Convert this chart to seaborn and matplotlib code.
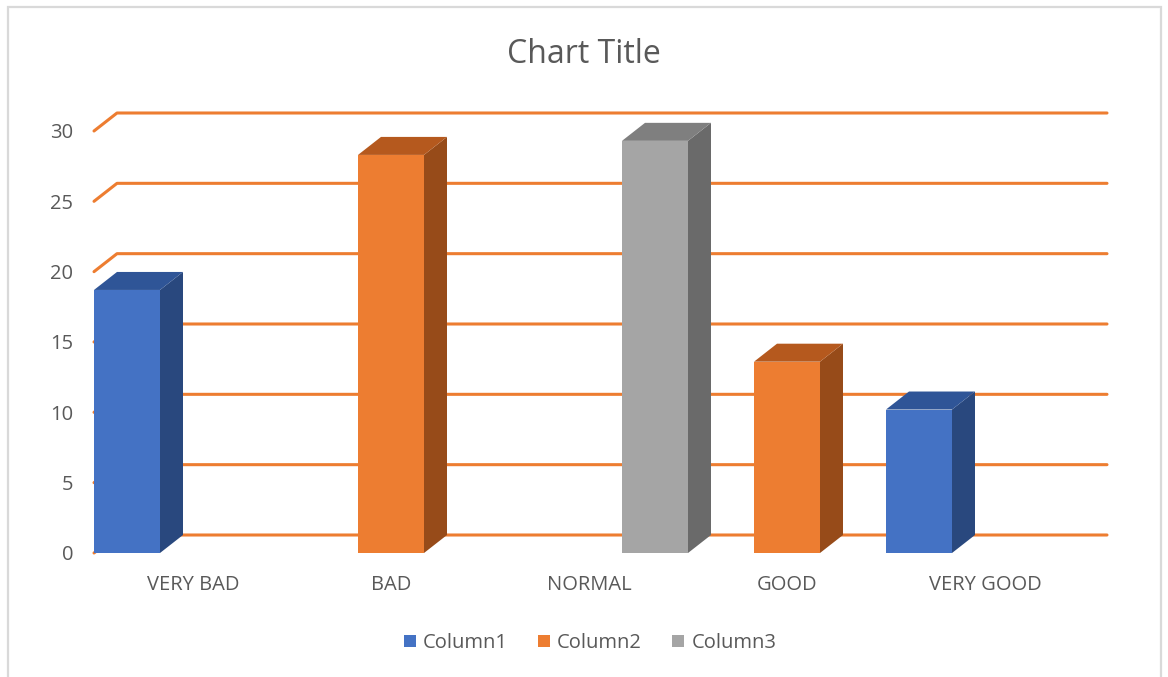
import numpy as np
import pandas as pd
import matplotlib
matplotlib.use("Agg")
import matplotlib.pyplot as plt
from matplotlib.patches import Polygon, Rectangle
import seaborn as sns

# values
categories = ["VERY BAD", "BAD", "NORMAL", "GOOD", "VERY GOOD"]
series = ["Column1", "Column2", "Column3"]
column1 = [18.7, np.nan, np.nan, np.nan, 10.2]
column2 = [np.nan, 28.3, np.nan, 13.6, np.nan]
column3 = [np.nan, np.nan, 29.3, np.nan, np.nan]
yticks = [0, 5, 10, 15, 20, 25, 30]

df = pd.DataFrame({"Category": categories, "Column1": column1,
                   "Column2": column2, "Column3": column3})
long = df.melt(id_vars="Category", var_name="Series", value_name="Value").dropna()

front = {"Column1": "#4472C4", "Column2": "#ED7D31", "Column3": "#A5A5A5"}
top = {"Column1": "#2F5597", "Column2": "#B5591E", "Column3": "#7F7F7F"}
side = {"Column1": "#29487E", "Column2": "#974B19", "Column3": "#6A6A6A"}
grid_col = "#ED7D31"
text_col = "#595959"

sns.set_theme(style="white")
plt.rcParams["font.family"] = ["Open Sans", "DejaVu Sans"]

W, H = 1168, 677
fig = plt.figure(figsize=(W / 100, H / 100), dpi=100)

# pixel layout of the plot area (front plane) and depth offset
x_left, x_right = 94, 1107
y_zero, y_top = 553, 113
cat_px = 198
px_per_unit = (553 - 131) / 30
dx = 23 / cat_px
dy = 18 / px_per_unit

ax = fig.add_axes([x_left / W, (H - y_zero) / H,
                   (x_right - x_left) / W, (y_zero - y_top) / H])

sns.barplot(data=long, x="Category", y="Value", hue="Series",
            order=categories, hue_order=series, palette=front,
            saturation=1, width=1.0, dodge=True, linewidth=0,
            errorbar=None, legend=False, ax=ax, zorder=3)
ax.set_xlim(-0.5, 4.5 + dx)
ax.set_ylim(0, 30 + dy)

# gridlines on the back wall with the slanted side-wall stub
for v in yticks:
    ax.plot([-0.5, -0.5 + dx, 4.5 + dx], [v, v + dy, v + dy],
            color=grid_col, lw=2.2, zorder=1, clip_on=False,
            solid_capstyle="round")

# 3D side and top faces of each column
for name, cont in zip(series, ax.containers):
    for p in cont.patches:
        h = p.get_height()
        if np.isnan(h) or h <= 0:
            continue
        x0, w = p.get_x(), p.get_width()
        x1 = x0 + w
        ax.add_patch(Polygon([(x1, 0), (x1 + dx, dy), (x1 + dx, h + dy), (x1, h)],
                             closed=True, facecolor=side[name], lw=0,
                             zorder=3, clip_on=False))
        ax.add_patch(Polygon([(x0, h), (x1, h), (x1 + dx, h + dy), (x0 + dx, h + dy)],
                             closed=True, facecolor=top[name], lw=0,
                             zorder=3, clip_on=False))

ax.set_yticks(yticks)
ax.set_yticklabels([str(v) for v in yticks])
ax.set_xticks(range(len(categories)))
ax.set_xticklabels(categories)
ax.tick_params(axis="y", length=0, pad=15, labelsize=14.5, labelcolor=text_col)
ax.tick_params(axis="x", length=0, pad=15.5, labelsize=14.5, labelcolor=text_col)
ax.set_xlabel("")
ax.set_ylabel("")
for s in ax.spines.values():
    s.set_visible(False)
ax.set_facecolor("none")

# legend
handles = [Rectangle((0, 0), 1, 1, facecolor=front[s], lw=0) for s in series]
fig.legend(handles, series, loc="center", bbox_to_anchor=(590 / W, 34 / H),
           ncol=3, frameon=False, fontsize=14.5, labelcolor=text_col,
           handlelength=0.6, handleheight=0.6, handletextpad=0.35,
           columnspacing=1.5)

fig.text(584 / W, 1 - 63 / H, "Chart Title", ha="center", va="baseline",
         fontsize=23, color=text_col)

# chart area border
fig.patches.append(Rectangle((8 / W, -0.01), (1161 - 8) / W, 1 - 7 / H + 0.01,
                             transform=fig.transFigure, fill=False,
                             edgecolor="#D9D9D9", lw=1.6))

fig.savefig("out.png", dpi=100, facecolor="white")
